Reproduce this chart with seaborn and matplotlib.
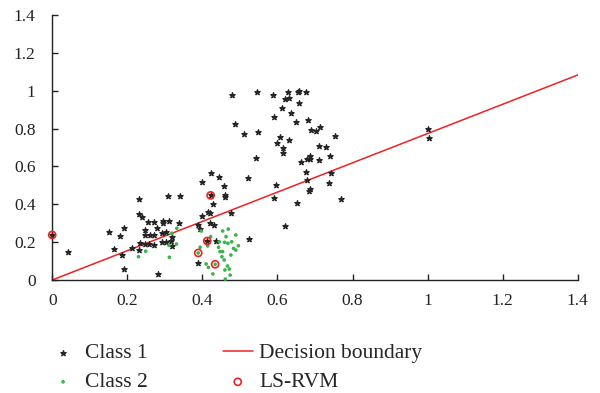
import numpy as np
import pandas as pd
import seaborn as sns
import matplotlib
matplotlib.use("Agg")
import matplotlib.pyplot as plt

# class 1 samples (black stars)
class1_x = [0.000, 0.043, 0.150, 0.165, 0.181, 0.187, 0.192, 0.192, 0.212, 0.230, 0.230, 0.232,
            0.234, 0.240, 0.246, 0.248, 0.248, 0.254, 0.259, 0.261, 0.270, 0.271, 0.272, 0.280,
            0.281, 0.292, 0.292, 0.295, 0.296, 0.303, 0.303, 0.308, 0.310, 0.316, 0.319, 0.320,
            0.338, 0.341, 0.388, 0.388, 0.394, 0.398, 0.398, 0.413, 0.416, 0.421, 0.421, 0.422,
            0.423, 0.428, 0.432, 0.437, 0.445, 0.458, 0.459, 0.459, 0.476, 0.480, 0.486, 0.511,
            0.521, 0.525, 0.543, 0.545, 0.548, 0.587, 0.590, 0.592, 0.597, 0.599, 0.607, 0.613,
            0.616, 0.615, 0.619, 0.621, 0.629, 0.631, 0.631, 0.637, 0.649, 0.651, 0.654, 0.657,
            0.657, 0.663, 0.677, 0.676, 0.679, 0.680, 0.681, 0.687, 0.685, 0.688, 0.688, 0.689,
            0.702, 0.711, 0.710, 0.714, 0.729, 0.737, 0.740, 0.743, 0.753, 0.768, 1.000, 1.003]
class1_y = [0.238, 0.146, 0.254, 0.162, 0.232, 0.134, 0.276, 0.057, 0.167, 0.158, 0.347, 0.426,
            0.194, 0.334, 0.190, 0.264, 0.238, 0.308, 0.190, 0.238, 0.183, 0.305, 0.238, 0.276,
            0.030, 0.250, 0.201, 0.312, 0.300, 0.255, 0.201, 0.445, 0.310, 0.204, 0.180, 0.229,
            0.303, 0.445, 0.291, 0.091, 0.268, 0.519, 0.340, 0.206, 0.358, 0.352, 0.303, 0.447,
            0.564, 0.400, 0.292, 0.208, 0.546, 0.498, 0.451, 0.438, 0.352, 0.976, 0.822, 0.770,
            0.537, 0.218, 0.643, 0.995, 0.783, 0.976, 0.861, 0.435, 0.500, 0.722, 0.757, 0.910,
            0.696, 0.673, 0.958, 0.287, 0.992, 0.963, 0.740, 0.884, 0.835, 0.405, 0.995, 0.998,
            0.937, 0.625, 0.992, 0.572, 0.638, 0.528, 0.845, 0.479, 0.472, 0.655, 0.638, 0.791,
            0.789, 0.710, 0.632, 0.807, 0.701, 0.511, 0.655, 0.564, 0.761, 0.428, 0.796, 0.749]

# class 2 samples (green dots)
class2_x = [0.230, 0.249, 0.311, 0.312, 0.319, 0.331, 0.332, 0.389, 0.394, 0.397, 0.410, 0.414,
            0.416, 0.422, 0.428, 0.434, 0.443, 0.445, 0.447, 0.452, 0.454, 0.454, 0.458, 0.459,
            0.460, 0.461, 0.463, 0.467, 0.468, 0.469, 0.472, 0.474, 0.476, 0.478, 0.483, 0.489,
            0.489, 0.496]
class2_y = [0.123, 0.152, 0.183, 0.120, 0.247, 0.190, 0.273, 0.143, 0.173, 0.259, 0.085, 0.180,
            0.067, 0.229, 0.032, 0.083, 0.173, 0.202, 0.150, 0.123, 0.150, 0.259, 0.106, 0.199,
            0.053, 0.005, 0.229, 0.074, 0.194, 0.269, 0.058, 0.026, 0.132, 0.202, 0.167, 0.238,
            0.158, 0.181]

# relevance vectors
rvm_x = [0.000, 0.422, 0.413, 0.389, 0.434]
rvm_y = [0.238, 0.447, 0.206, 0.143, 0.083]

# decision boundary end points
boundary_x = [0.0, 1.4]
boundary_y = [0.0, 1.083]

ticks = [0, 0.2, 0.4, 0.6, 0.8, 1, 1.2, 1.4]
tick_labels = ["0", "0.2", "0.4", "0.6", "0.8", "1", "1.2", "1.4"]

sns.set_theme(style="white")
plt.rcParams['font.family'] = ['Liberation Serif', 'DejaVu Serif']

fig = plt.figure(figsize=(6.0, 3.93), dpi=100)
ax = fig.add_axes([0.087, 0.2875, 0.876, 0.6745])

sns.scatterplot(x=class1_x, y=class1_y, ax=ax, marker='*', s=16, color='#262626',
                edgecolor='#262626', linewidth=0.9, label='Class 1', clip_on=False, zorder=3)
sns.scatterplot(x=class2_x, y=class2_y, ax=ax, marker='o', s=7, color='#3cb44b',
                edgecolor='none', label='Class 2', clip_on=False, zorder=3)
sns.lineplot(x=boundary_x, y=boundary_y, ax=ax, color='#ee2222', linewidth=1.1,
             label='Decision boundary', zorder=2)
sns.scatterplot(x=rvm_x, y=rvm_y, ax=ax, marker='o', s=26, facecolor='none',
                edgecolor='#ee2222', linewidth=1.2, label='LS-RVM', clip_on=False, zorder=4)

ax.set_xlim(0, 1.4)
ax.set_ylim(0, 1.4)
ax.set_xticks(ticks)
ax.set_xticklabels(tick_labels)
ax.set_yticks(ticks)
ax.set_yticklabels(tick_labels)
ax.tick_params(direction='in', length=4, width=1, labelsize=12.5, colors='#222222',
               bottom=True, left=True)
ax.tick_params(axis='x', pad=9)
ax.tick_params(axis='y', pad=12)
for side in ['top', 'right']:
    ax.spines[side].set_visible(False)
for side in ['left', 'bottom']:
    ax.spines[side].set_color('#222222')
    ax.spines[side].set_linewidth(1.0)

handles, labels = ax.get_legend_handles_labels()
ax.get_legend().remove()
fig.legend(handles, labels, ncol=2, loc='upper left', bbox_to_anchor=(0.08, 0.127),
           frameon=False, fontsize=15.5, handlelength=1.4, columnspacing=3.5,
           labelspacing=0.43, handletextpad=0.3, borderaxespad=0, borderpad=0)

plt.savefig('out.png', dpi=100)
plt.close()
